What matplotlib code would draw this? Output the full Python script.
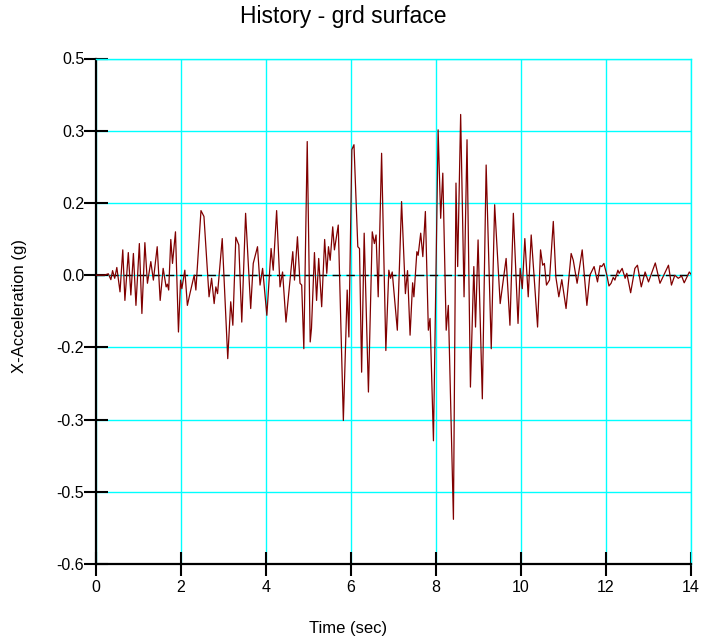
import matplotlib
matplotlib.use('Agg')
import matplotlib.pyplot as plt

plt.rcParams['font.family'] = ['Liberation Sans', 'DejaVu Sans']

# Ground surface acceleration history (peaks/troughs)
time_s = [
    0.0, 0.2, 0.29, 0.35, 0.39, 0.44, 0.49, 0.565, 0.63, 0.68, 0.76, 0.82, 0.88, 0.94,
    1.02, 1.08, 1.15, 1.21, 1.29, 1.35, 1.44, 1.51, 1.58, 1.65, 1.68, 1.71, 1.76, 1.80,
    1.87, 1.94, 1.99, 2.02, 2.09, 2.15, 2.21, 2.31, 2.35, 2.47, 2.54, 2.66, 2.72, 2.78,
    2.82, 2.86, 2.97, 3.10, 3.17, 3.22, 3.29, 3.36, 3.43, 3.52, 3.64, 3.70, 3.80, 3.86,
    3.92, 4.02, 4.12, 4.17, 4.25, 4.33, 4.39, 4.47, 4.63, 4.67, 4.74, 4.80, 4.84, 4.89,
    4.97, 5.04, 5.07, 5.14, 5.19, 5.24, 5.31, 5.38, 5.43, 5.47, 5.51, 5.57, 5.61, 5.70,
    5.82, 5.91, 5.95, 6.02, 6.07, 6.16, 6.20, 6.25, 6.31, 6.41, 6.50, 6.55, 6.59, 6.64,
    6.72, 6.82, 6.89, 6.93, 6.97, 7.09, 7.19, 7.28, 7.33, 7.39, 7.45, 7.48, 7.55, 7.58,
    7.64, 7.69, 7.75, 7.82, 7.86, 7.94, 8.05, 8.11, 8.16, 8.24, 8.29, 8.41, 8.47, 8.51,
    8.58, 8.66, 8.73, 8.81, 8.89, 8.93, 8.99, 9.09, 9.18, 9.30, 9.38, 9.51, 9.65, 9.74,
    9.82, 9.93, 9.98, 10.03, 10.09, 10.17, 10.24, 10.39, 10.46, 10.51, 10.55, 10.60,
    10.67, 10.76, 10.82, 10.89, 10.96, 11.06, 11.18, 11.23, 11.32, 11.44, 11.55, 11.62,
    11.72, 11.80, 11.86, 11.90, 11.95, 12.02, 12.07, 12.12, 12.17, 12.21, 12.28, 12.31,
    12.38, 12.45, 12.49, 12.58, 12.68, 12.74, 12.83, 12.92, 13.00, 13.16, 13.27, 13.47,
    13.54, 13.62, 13.70, 13.78, 13.84, 13.96, 14.0,
]
accel_g = [
    0.0, 0.0, 0.003, -0.010, 0.010, -0.007, 0.017, -0.037, 0.056, -0.056, 0.050, -0.044, 0.048, -0.067,
    0.070, -0.085, 0.072, -0.018, 0.030, -0.011, 0.063, -0.056, 0.015, -0.026, -0.020, -0.033, 0.079, 0.026,
    0.096, -0.126, -0.011, -0.030, 0.011, -0.067, -0.041, 0.000, -0.033, 0.143, 0.130, -0.048, -0.007, -0.063,
    -0.026, -0.041, 0.081, -0.185, -0.059, -0.111, 0.084, 0.067, -0.104, 0.137, -0.074, 0.026, 0.063, -0.022,
    0.015, -0.089, 0.059, 0.011, 0.143, -0.026, 0.007, -0.104, 0.052, -0.011, 0.085, -0.018, -0.022, -0.163,
    0.296, -0.148, -0.118, 0.050, -0.056, 0.037, -0.070, 0.079, 0.004, 0.063, 0.033, 0.107, 0.056, 0.111,
    -0.322, -0.033, -0.137, 0.278, 0.289, 0.063, 0.059, -0.215, 0.093, -0.259, 0.096, 0.070, 0.089, -0.048,
    0.270, -0.167, 0.011, -0.007, 0.007, -0.122, 0.163, -0.041, 0.010, -0.133, -0.017, -0.048, 0.052, 0.044,
    0.093, 0.041, 0.141, -0.122, -0.096, -0.367, 0.322, 0.126, 0.226, -0.122, -0.067, -0.541, 0.204, 0.019,
    0.356, -0.048, 0.300, -0.248, 0.019, -0.115, 0.078, -0.274, 0.244, -0.163, 0.156, -0.063, 0.037, -0.111,
    0.137, -0.107, 0.015, -0.030, 0.081, -0.048, 0.089, -0.115, 0.056, 0.022, 0.026, -0.022,
    -0.011, 0.119, -0.004, -0.048, -0.010, -0.074, 0.048, 0.033, -0.018, 0.056, -0.067, 0.000,
    0.019, -0.015, 0.021, 0.019, 0.026, 0.000, -0.024, -0.018, -0.005, -0.011, 0.011, 0.004,
    0.015, -0.007, 0.004, -0.039, 0.015, 0.022, -0.026, 0.007, -0.015, 0.027, -0.018, 0.022,
    -0.022, 0.000, -0.007, -0.002, -0.017, 0.007, 0.002,
]

x_ticks = [0, 2, 4, 6, 8, 10, 12, 14]
y_ticks = [-0.64, -0.48, -0.32, -0.16, 0.0, 0.16, 0.32, 0.48]

W, H = 701, 640
fig = plt.figure(figsize=(W / 100, H / 100), dpi=100)
ax = fig.add_axes([96 / W, 1 - 564 / H, (691 - 96) / W, (564 - 58.5) / H])

ax.plot(time_s, accel_g, color='#800000', lw=0.9, zorder=3)
ax.axhline(0, color='black', lw=1, dashes=(6, 4), zorder=2)

ax.set_xlim(0, 14)
ax.set_ylim(-0.64, 0.48)
ax.set_xticks(x_ticks)
ax.set_yticks(y_ticks)
ax.set_yticklabels([f'{v:.1f}' for v in y_ticks])

ax.grid(True, color='#00FFFF', lw=1)
ax.set_axisbelow(True)
for s in ['top', 'right']:
    ax.spines[s].set_color('#00FFFF')
    ax.spines[s].set_linewidth(1)
for s in ['left', 'bottom']:
    ax.spines[s].set_linewidth(1.6)

ax.tick_params(direction='inout', length=17, width=1.5, labelsize=11.5, color='black')
ax.tick_params(axis='y', pad=0)
ax.tick_params(axis='x', pad=3)

fig.text(343 / W, 1 - 23.5 / H, 'History - grd surface', ha='center', va='baseline', fontsize=16.5)
fig.text(348 / W, 1 - 633 / H, 'Time (sec)', ha='center', va='baseline', fontsize=12)
fig.text(19.5 / W, 1 - 306 / H, 'X-Acceleration (g)', ha='center', va='center',
         rotation=90, fontsize=12)

fig.savefig('out.png', dpi=100)
print("Run finished")
